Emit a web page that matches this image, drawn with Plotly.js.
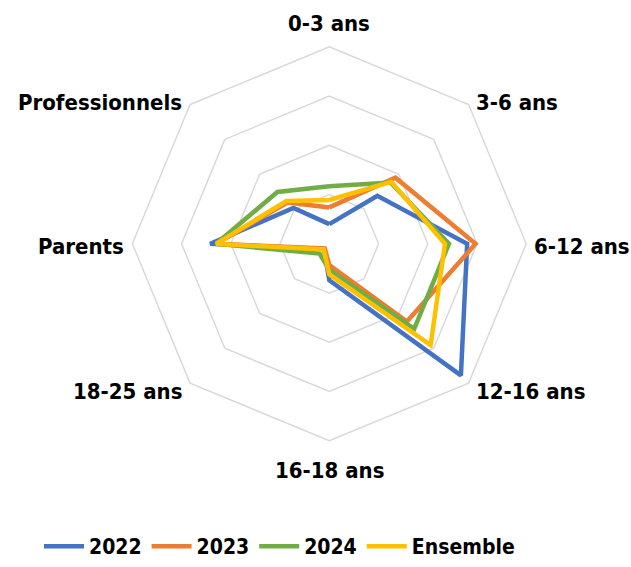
<!DOCTYPE html>
<html>
<head>
<meta charset="utf-8">
<script src="https://cdn.plot.ly/plotly-3.0.1.min.js"></script>
<style>
html,body{margin:0;padding:0;background:#fff;}
#chart{width:631px;height:567px;}
</style>
</head>
<body>
<div id="chart"></div>
<script>
const categories = ['0-3 ans','3-6 ans','6-12 ans','12-16 ans','16-18 ans','18-25 ans','Parents','Professionnels'];
const seriesNames = ['2022','2023','2024','Ensemble'];
const v2022 = [4.0, 13.8, 28.0, 37.8, 7.4, 1.5, 24.2, 10.3];
const v2023 = [7.4, 19.0, 29.7, 22.3, 4.3, 1.3, 23.0, 11.9];
const v2024 = [11.7, 17.6, 24.3, 24.4, 5.3, 2.8, 23.0, 14.9];
const vEnsemble = [8.9, 17.8, 23.5, 29.1, 6.2, 1.6, 23.0, 12.3];
const colors = ['#4472C4','#ED7D31','#70AD47','#FFC000'];

const FONT = 'DejaVu Sans Condensed, DejaVu Sans, sans-serif';
const allValues = [v2022, v2023, v2024, vEnsemble];
const traces = allValues.map((vals, i) => ({
  type: 'scatterpolar',
  mode: 'lines',
  name: seriesNames[i],
  r: vals.concat([vals[0]]),
  theta: categories.concat([categories[0]]),
  line: {color: colors[i], width: 4.5, shape: 'linear'},
  hoverinfo: 'skip'
}));

const W = 631, H = 567;
const cx = 329.3, cy = 246, R = 198.7;

// category labels placed around the polygon, computed from the polar geometry
const annotations = categories.map((c, i) => {
  const ang = (90 - i * 360 / categories.length) * Math.PI / 180;
  const dx = Math.cos(ang), dy = Math.sin(ang);
  let px, py, xa;
  if (Math.abs(dx) < 0.1) {
    px = cx; xa = 'center';
    py = cy - dy * (R + 27);
  } else {
    const vx = cx + dx * R, vy = cy - dy * R;
    px = vx + (dx > 0 ? 4 : -5);
    xa = dx > 0 ? 'left' : 'right';
    py = Math.abs(dy) < 0.1 ? vy : vy + (dy > 0 ? -5.5 : 5.5);
  }
  py += 3;
  return {
    text: c, showarrow: false, xref: 'paper', yref: 'paper',
    x: px / W, y: 1 - py / H, xanchor: xa, yanchor: 'middle',
    font: {family: FONT, size: 22, color: '#000000', weight: 'bold'}
  };
});

const layout = {
  width: W, height: H,
  margin: {l: 0, r: 0, t: 0, b: 0},
  paper_bgcolor: '#ffffff',
  plot_bgcolor: '#ffffff',
  font: {family: FONT, size: 22, color: '#000000', weight: 'bold'},
  showlegend: true,
  legend: {
    orientation: 'h',
    x: 39 / W, xanchor: 'left',
    y: -0.009, yanchor: 'bottom',
    font: {family: FONT, size: 21, color: '#000000', weight: 'bold'},
    itemwidth: 40,
    tracegroupgap: 0
  },
  annotations: annotations,
  polar: {
    domain: {x: [(cx - R) / W, (cx + R) / W], y: [(H - cy - R) / H, (H - cy + R) / H]},
    gridshape: 'linear',
    bgcolor: '#ffffff',
    radialaxis: {
      range: [0, 40], dtick: 10, tick0: 0,
      showticklabels: false, ticks: '', showline: false,
      gridcolor: '#d9d9d9', gridwidth: 1.5
    },
    angularaxis: {
      rotation: 90, direction: 'clockwise',
      showgrid: false, ticks: '', showticklabels: false,
      showline: true, linecolor: '#d9d9d9', linewidth: 1.5
    }
  }
};
Plotly.newPlot('chart', traces, layout, {displayModeBar: false, staticPlot: true});
</script>
</body>
</html>
